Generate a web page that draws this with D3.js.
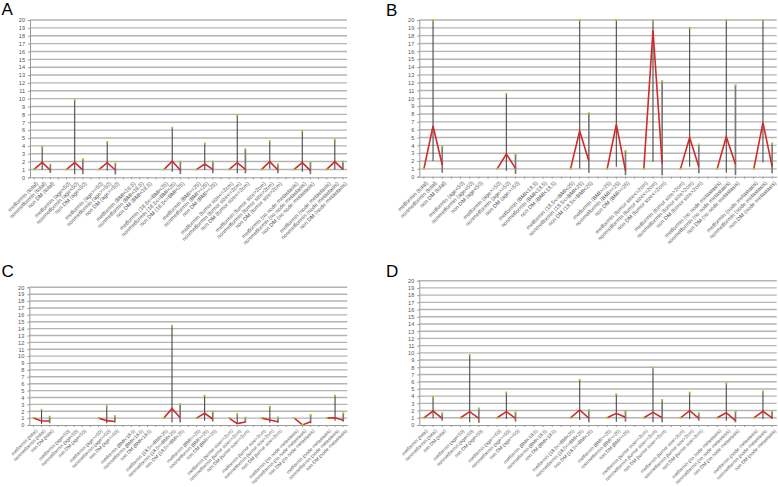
<!DOCTYPE html>
<html><head><meta charset="utf-8">
<script src="https://cdn.jsdelivr.net/npm/d3@7"></script>
<style>
html,body{margin:0;padding:0;background:#fff;}
svg{display:block;font-family:"Liberation Sans",Arial,sans-serif;}
</style></head>
<body><svg id="c" width="778" height="487"></svg>
<script>
// ---- data ----
const groups = ["total","age<50","age>=50","BMI<18.5","18.5<=BMI<25","BMI>=25","tumor size<=2cm","tumor size>2cm","no node metastasis","node metastasis"];
const arms = ["metformin","nonmetformin","non DM"];
const yTicks = d3.range(0,21);

// Panel A
const A_estNon = [1.9,1.87,1.85,null,2.05,1.69,1.86,2.0,1.86,2.0];
const A_estDM  = [0.9,0.95,0.93,null,0.9,1.0,1.0,0.93,0.85,1.0];
const A_loNon  = [0.95,0.4,0.85,null,0.7,0.93,0.5,1.1,0.7,1.0];
const A_hiNon  = [3.9,9.8,4.5,null,6.3,4.3,7.9,4.6,5.9,4.8];
const A_loDM   = [0.55,0.4,0.35,null,0.4,0.5,0.5,0.5,0.4,0.93];
const A_hiDM   = [1.6,2.3,1.75,null,2.0,2.0,3.56,1.65,1.9,2.0];
// Panel B
const B_estNon = [6.47,null,2.9,null,5.83,6.68,18.7,5.0,5.1,6.9];
const B_estDM  = [1.49,null,1.06,null,2.0,0.77,1.7,1.28,1.6,1.28];
const B_loNon  = [2.0,null,0.77,null,1.06,1.28,1.9,1.28,0.5,1.8];
const B_hiNon  = [24,null,10.55,null,24,24,24,19.0,24,24];
const B_loDM   = [0.5,null,0.35,null,0.5,0.2,0.2,0.43,0.2,0.43];
const B_hiDM   = [3.9,null,2.85,null,8.1,3.3,12.2,4.1,11.66,4.25];
// Panel C
const C_estNon = [0.58,null,0.63,null,2.4,1.7,0.2,0.73,0.01,1.05];
const C_estDM  = [0.58,null,0.5,null,1.06,0.87,0.44,0.48,0.48,0.68];
const C_loNon  = [0.15,null,0.25,null,0.35,0.63,0.15,0.34,0.0,0.63];
const C_hiNon  = [2.2,null,2.76,null,14.4,4.26,1.6,2.66,0.0,4.26];
const C_loDM   = [0.25,null,0.35,null,0.35,0.5,0.35,0.34,0.24,0.48];
const C_hiDM   = [1.2,null,1.3,null,3.05,1.95,1.06,1.1,1.45,1.7];
// Panel D
const D_estNon = [1.94,1.85,1.85,null,2.08,1.62,1.75,1.98,1.7,1.9];
const D_estDM  = [0.92,0.92,0.92,null,0.95,1.06,1.0,0.92,0.6,1.0];
const D_loNon  = [0.92,0.37,0.83,null,0.7,0.46,0.37,0.83,0.6,0.83];
const D_hiNon  = [3.93,9.7,4.5,null,6.24,4.25,7.94,4.48,5.77,4.66];
const D_loDM   = [0.6,0.32,0.46,null,0.37,0.46,0.37,0.6,0.37,0.83];
const D_hiDM   = [1.62,2.3,1.75,null,2.08,1.94,3.46,1.62,1.85,1.94];

// ---- categories (3 arms + blank separator per group) ----
const slots = [];
groups.forEach((g,gi)=>{
  arms.forEach((a,ai)=>slots.push({id:gi+"_"+ai, label:a+" ("+g+")", g:gi, a:ai}));
  if(gi<groups.length-1) slots.push({id:gi+"_b", label:"", g:gi, a:-1});
});

const svg = d3.select("#c");

function panel(letter, box, lx, ly, fs, estNon, estDM, loNon, hiNon, loDM, hiDM){
  const x = d3.scaleBand().domain(slots.map(s=>s.id)).range([box.x0, box.x1]).paddingInner(0).paddingOuter(0);
  const y = d3.scaleLinear().domain([0,20]).range([box.y1, box.y0]).clamp(true);
  const g = svg.append("g");
  const cx = id => x(id)+x.bandwidth()/2;

  // gridlines
  g.append("g").selectAll("line").data(yTicks.filter(t=>t>0)).join("line")
    .attr("x1",box.x0).attr("x2",box.x1).attr("y1",d=>y(d)).attr("y2",d=>y(d))
    .attr("stroke","#b4b4b4").attr("stroke-width",1.4);

  // y axis
  const ya = g.append("g").attr("transform",`translate(${box.x0},0)`)
    .call(d3.axisLeft(y).tickValues(yTicks).tickSize(2).tickPadding(3).tickFormat(d3.format("d")));
  ya.select(".domain").attr("stroke","#9a9a9a");
  ya.selectAll(".tick line").attr("stroke","#9a9a9a");
  ya.selectAll("text").attr("font-size","5.6px").attr("fill","#555");

  // x axis
  const xa = g.append("g").attr("transform",`translate(0,${box.y1})`)
    .call(d3.axisBottom(x).tickSize(2).tickSizeOuter(0).tickFormat(id=>slots.find(s=>s.id===id).label));
  xa.select(".domain").attr("stroke","#9a9a9a");
  xa.selectAll(".tick line").attr("stroke","#9a9a9a");
  xa.selectAll("text").attr("font-size",fs+"px").attr("fill","#555")
    .attr("text-anchor","end").attr("dx","-0.3em").attr("dy","0.5em")
    .attr("transform","rotate(-45)");

  // per-group marks
  groups.forEach((gn,gi)=>{
    if(estNon[gi]===null) return;
    const idM = gi+"_0", idN = gi+"_1", idD = gi+"_2";
    g.append("line").attr("x1",cx(idN)).attr("x2",cx(idN)).attr("y1",y(loNon[gi])).attr("y2",y(hiNon[gi]))
      .attr("stroke","#484848").attr("stroke-width",1.1);
    g.append("line").attr("x1",cx(idD)).attr("x2",cx(idD)).attr("y1",y(loDM[gi])).attr("y2",y(hiDM[gi]))
      .attr("stroke","#7a7a7a").attr("stroke-width",1.7);
    const pts = [[cx(idM),y(1)],[cx(idN),y(estNon[gi])],[cx(idD),y(estDM[gi])]];
    g.append("path").attr("d",d3.line()(pts)).attr("fill","none")
      .attr("stroke","#d42a2a").attr("stroke-width",1.6).attr("stroke-linejoin","miter");
    [[cx(idM),y(1)],[cx(idN),y(hiNon[gi])],[cx(idD),y(hiDM[gi])]].forEach(p=>{
      g.append("rect").attr("x",p[0]-1).attr("y",p[1]-1).attr("width",2).attr("height",2).attr("fill","#9ccc3c");
    });
  });

  svg.append("text").attr("x",lx).attr("y",ly).attr("font-size","17px").attr("fill","#000").text(letter);
}

panel("A",{x0:30,x1:347,y0:20,y1:177.3},1.5,15,5.5,A_estNon,A_estDM,A_loNon,A_hiNon,A_loDM,A_hiDM);
panel("B",{x0:419.3,x1:776.7,y0:20,y1:176.7},386,16,5.5,B_estNon,B_estDM,B_loNon,B_hiNon,B_loDM,B_hiDM);
panel("C",{x0:29.3,x1:347.3,y0:287.3,y1:425},1.5,277,4.8,C_estNon,C_estDM,C_loNon,C_hiNon,C_loDM,C_hiDM);
panel("D",{x0:419.3,x1:776.7,y0:280.7,y1:425},386,277,4.8,D_estNon,D_estDM,D_loNon,D_hiNon,D_loDM,D_hiDM);
</script></body></html>
